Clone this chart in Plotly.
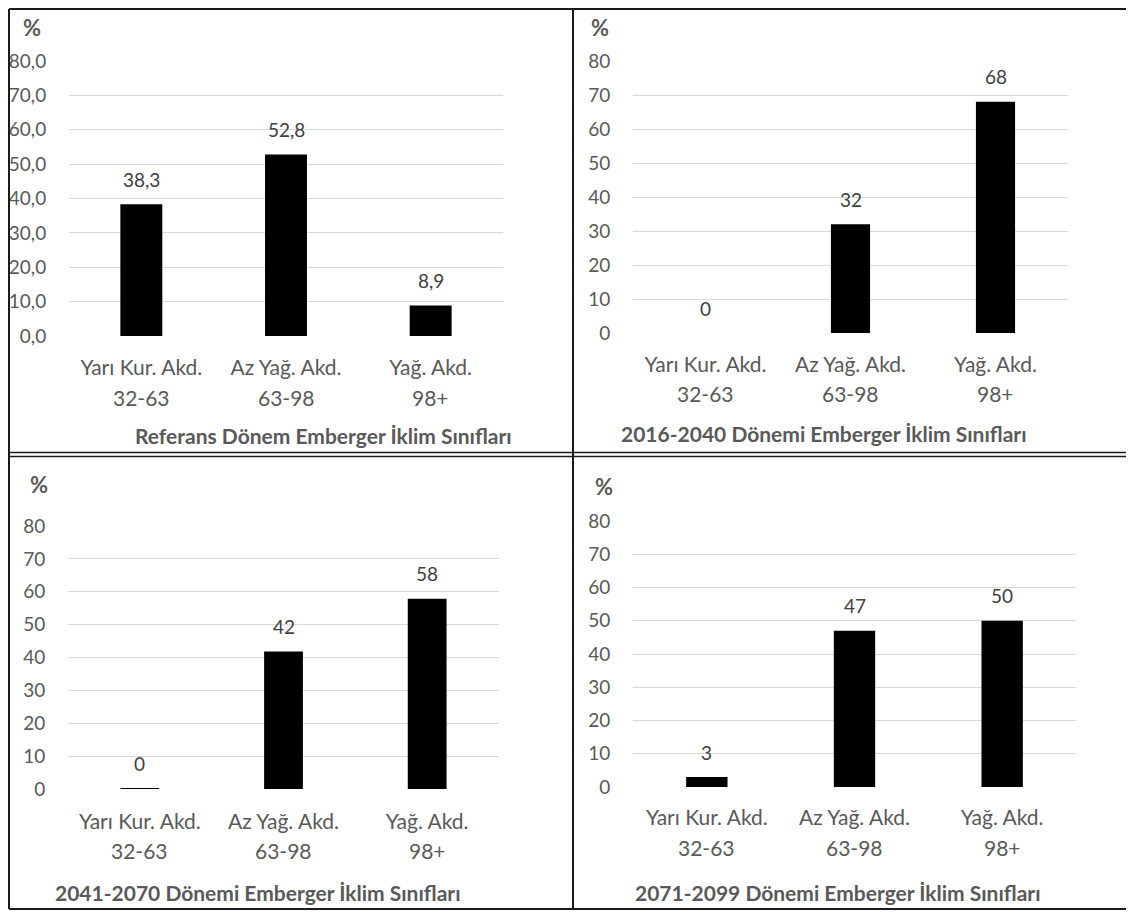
import plotly.graph_objects as go

# The page body adds an 8px margin around the figure; positions below are
# measured in page pixels and converted to figure coordinates.
OFF = 8
W, H = 1134 - OFF, 913 - OFF

categories = ["Yarı Kur. Akd.", "Az Yağ. Akd.", "Yağ. Akd."]
ranges = ["32-63", "63-98", "98+"]

titles = [
    "Referans Dönem Emberger İklim Sınıfları",
    "2016-2040 Dönemi Emberger İklim Sınıfları",
    "2041-2070 Dönemi Emberger İklim Sınıfları",
    "2071-2099 Dönemi Emberger İklim Sınıfları",
]
ref_values = [38.3, 52.8, 8.9]
p2016_values = [0.0, 32.0, 68.0]
p2041_values = [0.3, 41.8, 57.9]
p2071_values = [3.0, 47.0, 50.0]
series = [ref_values, p2016_values, p2041_values, p2071_values]
label_formats = [".1f", ".0f", ".0f", ".0f"]
tick_values = [0, 10, 20, 30, 40, 50, 60, 70, 80]

# layout (page pixels): plot area x0,x1,y_top(80),y_bottom(0)
panels = [
    dict(x0=69, x1=503, yt=61, yb=336, bw=0.29, cat1=368, cat2=397, tx=323, ty=435, px=32, py=28),
    dict(x0=633, x1=1068, yt=61, yb=333, bw=0.27, cat1=365, cat2=394, tx=824, ty=433, px=600, py=27),
    dict(x0=68, x1=499, yt=526, yb=789, bw=0.27, cat1=822, cat2=850, tx=258, ty=892, px=39, py=484),
    dict(x0=633, x1=1076, yt=521, yb=787, bw=0.28, cat1=818, cat2=847, tx=838, ty=892, px=604, py=486),
]

FONT = "Lato"
GRAY = "#595959"
DARK = "#404040"

def fx(p):
    return (p - OFF) / W

def fy(p):
    return 1 - (p - OFF) / H

fig = go.Figure()
annotations = []
layout_axes = {}

for i, (vals, pan) in enumerate(zip(series, panels)):
    n = "" if i == 0 else str(i + 1)
    xa, ya = "x" + n, "y" + n
    fig.add_trace(go.Bar(
        x=[0, 1, 2], y=vals, width=pan["bw"],
        marker=dict(color="black", line=dict(width=0)),
        xaxis=xa, yaxis=ya, showlegend=False, hoverinfo="skip",
    ))
    layout_axes["xaxis" + n] = dict(
        domain=[fx(pan["x0"]), fx(pan["x1"])], anchor=ya,
        range=[-0.5, 2.5], tickvals=[0, 1, 2], ticktext=categories,
        ticks="outside", ticklen=pan["cat1"] - pan["yb"] - 19, tickcolor="rgba(0,0,0,0)",
        tickfont=dict(family=FONT, size=21, color=GRAY),
        showgrid=False, zeroline=False, showline=False, fixedrange=True,
        automargin=False,
    )
    fmt = label_formats[i]
    layout_axes["yaxis" + n] = dict(
        domain=[fy(pan["yb"]), fy(pan["yt"])], anchor=xa,
        range=[0, 80], tickvals=tick_values, tickformat=fmt,
        ticks="outside", ticklen=18, tickcolor="rgba(0,0,0,0)",
        tickfont=dict(family=FONT, size=19, color=GRAY),
        showgrid=True, gridcolor="#d9d9d9", gridwidth=1.3,
        zeroline=False, showline=False, fixedrange=True,
        automargin=False,
    )
    for k, v in enumerate(vals):
        annotations.append(dict(
            x=k, y=v, xref=xa, yref=ya, text=format(v, fmt).replace(".", ","),
            showarrow=False, yanchor="middle", yshift=25,
            font=dict(family=FONT, size=19, color=DARK),
        ))
        annotations.append(dict(
            x=k, y=fy(pan["cat2"]), xref=xa, yref="paper", text=ranges[k],
            showarrow=False, yanchor="middle",
            font=dict(family=FONT, size=21, color=GRAY),
        ))
    annotations.append(dict(
        x=fx(pan["tx"]), y=fy(pan["ty"]), xref="paper", yref="paper",
        text="<b>" + titles[i] + "</b>", showarrow=False,
        xanchor="center", yanchor="middle",
        font=dict(family=FONT, size=21, color=GRAY),
    ))
    annotations.append(dict(
        x=fx(pan["px"]), y=fy(pan["py"]), xref="paper", yref="paper",
        text="<b>%</b>", showarrow=False, xanchor="center", yanchor="middle",
        font=dict(family=FONT, size=22, color=GRAY),
    ))

def line(x0, y0, x1, y1, w=2, c="#1a1a1a"):
    return dict(type="line", xref="paper", yref="paper",
                x0=fx(x0), y0=fy(y0), x1=fx(x1), y1=fy(y1),
                line=dict(color=c, width=w))

shapes = [
    line(9, 9, 1134, 9),
    line(9, 909, 1134, 909),
    line(9, 9, 9, 909),
    line(573, 9, 573, 909),
    line(9, 452.5, 1134, 452.5, 1.5),
    line(9, 456.5, 1134, 456.5, 1.5),
]

fig.update_layout(
    width=W, height=H, margin=dict(l=0, r=0, t=0, b=0, autoexpand=False),
    paper_bgcolor="white", plot_bgcolor="white",
    separators=",.", bargap=0.7,
    annotations=annotations, shapes=shapes,
    font=dict(family=FONT, color=GRAY),
    **layout_axes,
)

fig.write_html("out.html")
